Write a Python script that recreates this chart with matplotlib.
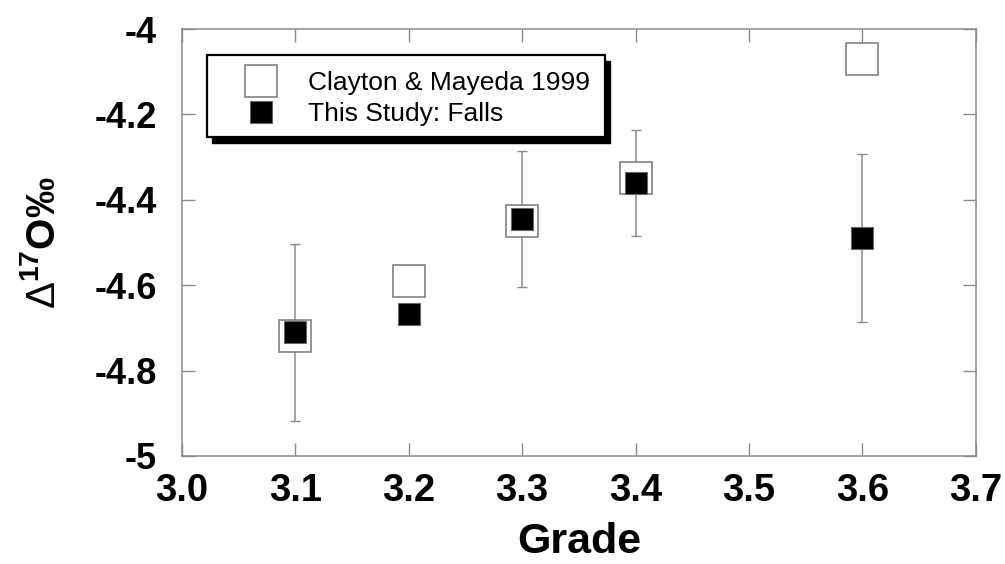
import numpy as np
import matplotlib
matplotlib.use('Agg')
import matplotlib.pyplot as plt
from matplotlib.patches import Rectangle
from matplotlib.lines import Line2D
from matplotlib.ticker import FuncFormatter

plt.rcParams['font.family'] = ['Liberation Sans', 'DejaVu Sans']
plt.rcParams['mathtext.fontset'] = 'custom'
plt.rcParams['mathtext.rm'] = 'Liberation Sans'
plt.rcParams['mathtext.bf'] = 'Liberation Sans:bold'
plt.rcParams['mathtext.default'] = 'regular'

# Clayton & Mayeda 1999
grade_cm = [3.1, 3.2, 3.3, 3.4, 3.6]
d17o_cm = [-4.72, -4.59, -4.45, -4.35, -4.07]

# this study, falls (with 1 sigma)
grade_falls = [3.1, 3.2, 3.3, 3.4, 3.6]
d17o_falls = [-4.71, -4.667, -4.445, -4.36, -4.489]
err_falls = [0.207, 0.0, 0.160, 0.124, 0.196]

x_ticks = [3.0, 3.1, 3.2, 3.3, 3.4, 3.5, 3.6, 3.7]
y_ticks = [-5.0, -4.8, -4.6, -4.4, -4.2, -4.0]

GREY = '#8a8a8a'

fig = plt.figure(figsize=(10.05, 5.64), dpi=100)
ax = fig.add_axes([0.181, 0.1915, 0.790, 0.757])

ax.errorbar(grade_falls, d17o_falls, yerr=err_falls, fmt='none',
            ecolor=GREY, elinewidth=1.1, capsize=3.6, capthick=1.0, zorder=1)
ax.plot(grade_cm, d17o_cm, 's', ms=22.5, mfc='white', mec='#777777',
        mew=1.1, zorder=2)
ax.plot(grade_falls, d17o_falls, 's', ms=16.3, mfc='black', mec='#666666',
        mew=0.8, zorder=3)

ax.set_xlim(3.0, 3.7)
ax.set_ylim(-5.0, -4.0)
ax.set_xticks(x_ticks)
ax.set_yticks(y_ticks)
ax.xaxis.set_major_formatter(FuncFormatter(lambda v, _: f'{v:.1f}'))
ax.yaxis.set_major_formatter(FuncFormatter(lambda v, _: f'{v:g}'))
ax.tick_params(direction='in', length=9.5, width=1.0, color=GREY,
               top=True, right=True)
ax.tick_params(axis='x', pad=12, labelsize=27.5)
ax.tick_params(axis='y', pad=18, labelsize=26)
for lab in ax.get_xticklabels() + ax.get_yticklabels():
    lab.set_fontweight('bold')
for sp in ax.spines.values():
    sp.set_color(GREY)
    sp.set_linewidth(1.1)

ax.set_xlabel('Grade', fontsize=31, fontweight='bold')
ax.xaxis.set_label_coords(0.5, -0.201)
ax.xaxis.label.set_va('center')
ax.set_ylabel(r'$\mathrm{\Delta}^{\mathbf{17}}$O‰', fontsize=29, fontweight='bold')
ax.yaxis.set_label_coords(-0.174, 0.5)
ax.yaxis.label.set_va('center')

# legend box with a solid drop shadow
bx, by, bw, bh = 207 / 1005, 1 - 137 / 564, 398 / 1005, 82 / 564
shadow = Rectangle((bx + 5 / 1005, by - 6 / 564), bw, bh, transform=fig.transFigure,
                   facecolor='black', edgecolor='black', zorder=4, clip_on=False)
frame = Rectangle((bx, by), bw, bh, transform=fig.transFigure,
                  facecolor='white', edgecolor='black', linewidth=1.6,
                  zorder=5, clip_on=False)
ax.add_patch(shadow)
ax.add_patch(frame)

handles = [
    Line2D([], [], ls='none', marker='s', ms=22.5, mfc='white', mec='#777777', mew=1.1),
    Line2D([], [], ls='none', marker='s', ms=16.3, mfc='black', mec='#666666', mew=0.8),
]
leg = ax.legend(handles, ['Clayton & Mayeda 1999', 'This Study: Falls'],
                loc='upper left', bbox_to_anchor=(241 / 1005, 1 - 71 / 564),
                bbox_transform=fig.transFigure, frameon=False, fontsize=19,
                handlelength=1.5, handletextpad=1.03, labelspacing=0.27,
                borderpad=0, borderaxespad=0)
leg.set_zorder(6)

fig.savefig('out.png', dpi=100)
